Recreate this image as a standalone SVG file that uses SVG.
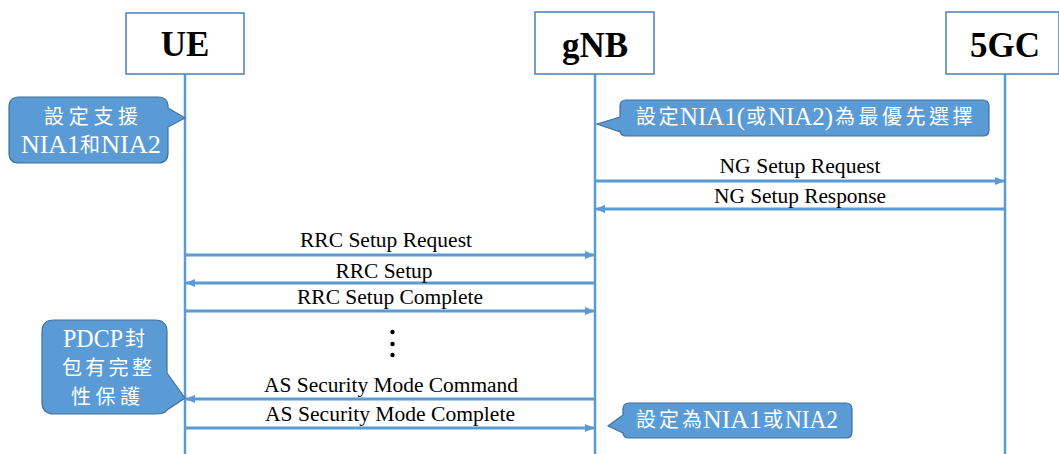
<svg xmlns="http://www.w3.org/2000/svg" width="1059" height="454" viewBox="0 0 1059 454">
<style>
.box{fill:#fff;stroke:#4A7EBB;stroke-width:1.5}
.life{stroke:#5B9BD5;stroke-width:2.5;fill:none}
.msg{stroke:#5B9BD5;stroke-width:3;fill:none}
.title{font-family:"Liberation Serif","Times New Roman",serif;font-weight:bold;font-size:35px;fill:#000;text-anchor:middle}
.lbl{font-family:"Liberation Serif","Times New Roman",serif;font-size:20.5px;fill:#000;text-anchor:middle}
.co{fill:#5B9BD5;stroke:#41719C;stroke-width:1.2}
.cj{font-family:"Noto Sans CJK TC",sans-serif;font-size:20px;fill:#fff}
.lat{font-family:"Liberation Serif","Times New Roman",serif;font-size:25px;fill:#fff}
</style>
<defs>
<marker id="ah" viewBox="0 0 10 8" refX="10" refY="4" markerWidth="10" markerHeight="8" markerUnits="userSpaceOnUse" orient="auto">
<path d="M0,0 L10,4 L0,8 Z" fill="#5B9BD5"/>
</marker>
</defs>
<rect width="1059" height="454" fill="#fff"/>
<g id="lifelines">
<line class="life" x1="185" y1="74" x2="185" y2="454"/>
<line class="life" x1="595" y1="74" x2="595" y2="454"/>
<line class="life" x1="1005" y1="74" x2="1005" y2="454"/>
</g>
<g id="UE"><rect class="box" x="126" y="13" width="118" height="61"/><text class="title" x="185" y="56">UE</text></g>
<g id="gNB"><rect class="box" x="535" y="12" width="119" height="62"/><text class="title" x="595" y="57">gNB</text></g>
<g id="5GC"><rect class="box" x="946" y="12" width="113" height="62"/><text class="title" x="1005" y="57">5GC</text></g>
<g id="connectors">
<line class="msg" x1="595" y1="181" x2="1005" y2="181" marker-end="url(#ah)"/>
<line class="msg" x1="1005" y1="209" x2="595" y2="209" marker-end="url(#ah)"/>
<line class="msg" x1="185" y1="255" x2="595" y2="255" marker-end="url(#ah)"/>
<line class="msg" x1="595" y1="283" x2="185" y2="283" marker-end="url(#ah)"/>
<line class="msg" x1="185" y1="311" x2="595" y2="311" marker-end="url(#ah)"/>
<line class="msg" x1="595" y1="399" x2="185" y2="399" marker-end="url(#ah)"/>
<line class="msg" x1="185" y1="428" x2="595" y2="428" marker-end="url(#ah)"/>
<text class="lbl" x="800" y="173" textLength="161" lengthAdjust="spacingAndGlyphs">NG Setup Request</text>
<text class="lbl" x="800" y="203" textLength="172" lengthAdjust="spacingAndGlyphs">NG Setup Response</text>
<text class="lbl" x="386" y="247" textLength="172" lengthAdjust="spacingAndGlyphs">RRC Setup Request</text>
<text class="lbl" x="384" y="278" textLength="97" lengthAdjust="spacingAndGlyphs">RRC Setup</text>
<text class="lbl" x="390" y="304" textLength="186" lengthAdjust="spacingAndGlyphs">RRC Setup Complete</text>
<text class="lbl" x="391" y="392" textLength="254" lengthAdjust="spacingAndGlyphs">AS Security Mode Command</text>
<text class="lbl" x="390" y="421" textLength="250" lengthAdjust="spacingAndGlyphs">AS Security Mode Complete</text>
<circle cx="392.5" cy="332" r="2.2" fill="#000"/>
<circle cx="392.5" cy="344" r="2.2" fill="#000"/>
<circle cx="392.5" cy="355" r="2.2" fill="#000"/>
</g>
<g id="callout1">
<path class="co" d="M19,97 H158 Q168,97 168,107 V108 L185,118 L168,127 V153 Q168,163 158,163 H19 Q9,163 9,153 V107 Q9,97 19,97 Z"/>
<text class="cj" x="44" y="124" letter-spacing="4.7">設定支援</text>
<text class="lat" x="21" y="153" textLength="59" lengthAdjust="spacingAndGlyphs">NIA1</text>
<text class="cj" x="80" y="152">和</text>
<text class="lat" x="101" y="153" textLength="60" lengthAdjust="spacingAndGlyphs">NIA2</text>
</g>
<g id="callout2">
<path class="co" d="M626,100 H983 Q989,100 989,106 V130 Q989,136 983,136 H626 Q620,136 620,130 V132 L597,124 L620,117 V106 Q620,100 626,100 Z"/>
<text class="cj" x="636" y="124" letter-spacing="2.5">設定</text>
<text class="lat" x="680" y="125" textLength="65" lengthAdjust="spacingAndGlyphs">NIA1(</text>
<text class="cj" x="746" y="124">或</text>
<text class="lat" x="768" y="125" textLength="65" lengthAdjust="spacingAndGlyphs">NIA2)</text>
<text class="cj" x="835" y="124" letter-spacing="3.5">為最優先選擇</text>
</g>
<g id="callout3">
<path class="co" d="M54,320 H155 Q167,320 167,332 V373 L185,398 L167,410 Q165,414 155,414 H54 Q42,414 42,402 V332 Q42,320 54,320 Z"/>
<text class="lat" x="63" y="347" textLength="60" lengthAdjust="spacingAndGlyphs">PDCP</text>
<text class="cj" x="125" y="346">封</text>
<text class="cj" x="62" y="375" letter-spacing="3.3">包有完整</text>
<text class="cj" x="71" y="404" letter-spacing="4.5">性保護</text>
</g>
<g id="callout4">
<path class="co" d="M629,403 H846 Q852,403 852,409 V432 Q852,438 846,438 H629 Q623,438 623,432 V433 L608,426 L623,415 V409 Q623,403 629,403 Z"/>
<text class="cj" x="636" y="427" letter-spacing="3">設定為</text>
<text class="lat" x="703" y="428" textLength="59" lengthAdjust="spacingAndGlyphs">NIA1</text>
<text class="cj" x="763" y="427">或</text>
<text class="lat" x="785" y="428" textLength="53" lengthAdjust="spacingAndGlyphs">NIA2</text>
</g>
</svg>
